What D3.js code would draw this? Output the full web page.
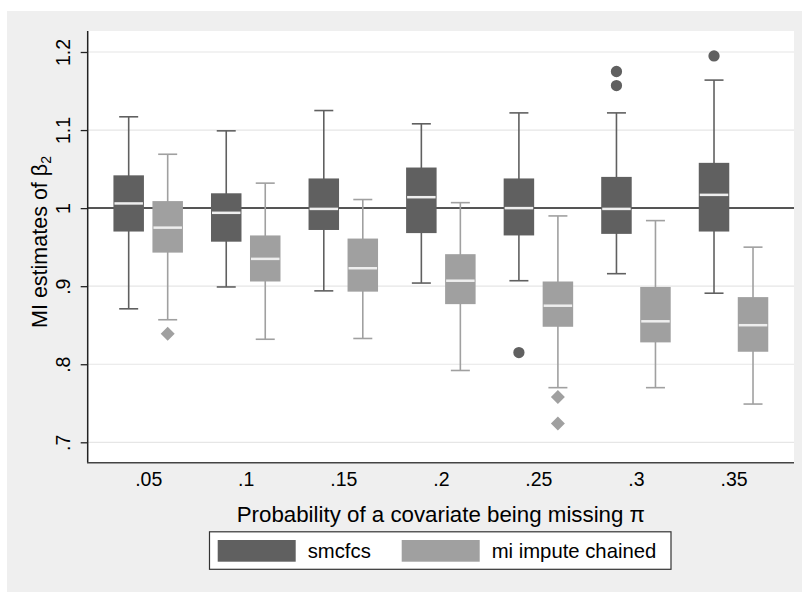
<!DOCTYPE html>
<html>
<head>
<meta charset="utf-8">
<script src="https://cdn.jsdelivr.net/npm/d3@7"></script>
<style>
    body { margin: 0; background: #ffffff; }
    svg { display: block; font-family: 'Liberation Sans', Arial, sans-serif; }
</style>
</head>
<body>
<script>
var categories = ['.05', '.1', '.15', '.2', '.25', '.3', '.35'];
var yTicks = [0.7, 0.8, 0.9, 1.0, 1.1, 1.2];
var yTickLabels = ['.7', '.8', '.9', '1', '1.1', '1.2'];
var seriesNames = ['smcfcs', 'mi impute chained'];

// smcfcs
var smcLow = [0.871, 0.899, 0.894, 0.904, 0.907, 0.916, 0.891];
var smcQ1 = [0.970, 0.957, 0.972, 0.968, 0.965, 0.967, 0.970];
var smcMedian = [1.006, 0.994, 0.999, 1.014, 1.000, 0.999, 1.017];
var smcQ3 = [1.042, 1.019, 1.038, 1.052, 1.038, 1.040, 1.058];
var smcHigh = [1.117, 1.099, 1.125, 1.108, 1.122, 1.122, 1.164];
var smcOutliers = [[], [], [], [], [0.815], [1.157, 1.175], [1.195]];

// mi impute chained
var micLow = [0.857, 0.832, 0.833, 0.792, 0.770, 0.770, 0.749];
var micQ1 = [0.943, 0.906, 0.893, 0.877, 0.848, 0.828, 0.816];
var micMedian = [0.975, 0.935, 0.923, 0.907, 0.875, 0.855, 0.850];
var micQ3 = [1.009, 0.965, 0.961, 0.941, 0.906, 0.899, 0.886];
var micHigh = [1.069, 1.032, 1.011, 1.007, 0.990, 0.984, 0.950];
var micOutliers = [[0.839], [], [], [], [0.758, 0.724], [], []];

var W = 802, H = 592;
var plot = { left: 87.7, right: 794, top: 31, bottom: 462.7 };
var colors = ['#606060', '#a0a0a0'];

var svg = d3.select('body').append('svg').attr('width', W).attr('height', H);

// outer gray panel and white plot region
svg.append('rect').attr('x', 7).attr('y', 11).attr('width', W - 7).attr('height', H - 11).attr('fill', '#efefef');
svg.append('rect').attr('x', plot.left).attr('y', plot.top)
    .attr('width', plot.right - plot.left).attr('height', plot.bottom - plot.top).attr('fill', '#ffffff');

var x = d3.scalePoint().domain(categories).range([plot.left, plot.right]).padding(0.62);
var y = d3.scaleLinear().domain([0.7, 1.2]).range([442.3, 52]);

// grid
svg.append('g').selectAll('line')
    .data(yTicks)
    .enter()
    .append('line')
    .attr('x1', plot.left).attr('x2', plot.right)
    .attr('y1', function(d) { return y(d); })
    .attr('y2', function(d) { return y(d); })
    .attr('stroke', '#e6e6e6').attr('stroke-width', 1.2);

// reference line at 1
svg.append('line')
    .attr('x1', plot.left).attr('x2', plot.right)
    .attr('y1', y(1)).attr('y2', y(1))
    .attr('stroke', '#222').attr('stroke-width', 1.5);

var series = [
    { name: seriesNames[0], low: smcLow, q1: smcQ1, med: smcMedian, q3: smcQ3, high: smcHigh, out: smcOutliers, dx: -19.5 },
    { name: seriesNames[1], low: micLow, q1: micQ1, med: micMedian, q3: micQ3, high: micHigh, out: micOutliers, dx: 19.5 }
];

var boxW = 30.5, capW = 19;

series.forEach(function(s, si) {
    var c = colors[si];
    var g = svg.append('g');
    var rows = categories.map(function(cat, i) {
        return { cat: cat, low: s.low[i], q1: s.q1[i], med: s.med[i], q3: s.q3[i], high: s.high[i], out: s.out[i] };
    });
    var cx = function(d) { return x(d.cat) + s.dx; };

    // whiskers
    g.selectAll('line.wl').data(rows).enter().append('line')
        .attr('x1', cx).attr('x2', cx)
        .attr('y1', function(d) { return y(d.low); })
        .attr('y2', function(d) { return y(d.high); })
        .attr('stroke', c).attr('stroke-width', 1.6);
    g.selectAll('line.capLo').data(rows).enter().append('line')
        .attr('x1', function(d) { return cx(d) - capW / 2; })
        .attr('x2', function(d) { return cx(d) + capW / 2; })
        .attr('y1', function(d) { return y(d.low); })
        .attr('y2', function(d) { return y(d.low); })
        .attr('stroke', c).attr('stroke-width', 1.6);
    g.selectAll('line.capHi').data(rows).enter().append('line')
        .attr('x1', function(d) { return cx(d) - capW / 2; })
        .attr('x2', function(d) { return cx(d) + capW / 2; })
        .attr('y1', function(d) { return y(d.high); })
        .attr('y2', function(d) { return y(d.high); })
        .attr('stroke', c).attr('stroke-width', 1.6);

    // boxes
    g.selectAll('rect').data(rows).enter().append('rect')
        .attr('x', function(d) { return cx(d) - boxW / 2; })
        .attr('y', function(d) { return y(d.q3); })
        .attr('width', boxW)
        .attr('height', function(d) { return y(d.q1) - y(d.q3); })
        .attr('fill', c);

    // medians
    g.selectAll('line.med').data(rows).enter().append('line')
        .attr('x1', function(d) { return cx(d) - boxW / 2 + 1; })
        .attr('x2', function(d) { return cx(d) + boxW / 2 - 1; })
        .attr('y1', function(d) { return y(d.med); })
        .attr('y2', function(d) { return y(d.med); })
        .attr('stroke', '#eeeeee').attr('stroke-width', 2.5);

    // outliers
    var pts = [];
    rows.forEach(function(d) { d.out.forEach(function(v) { pts.push({ cat: d.cat, v: v }); }); });
    var sym = si === 0 ? d3.symbol().type(d3.symbolCircle).size(100) : d3.symbol().type(d3.symbolSquare).size(98);
    g.selectAll('path').data(pts).enter().append('path')
        .attr('d', sym)
        .attr('transform', function(d) {
            return 'translate(' + cx(d) + ',' + y(d.v) + ')' + (si === 1 ? ' rotate(45)' : '');
        })
        .attr('fill', c);
});

// axes
var yAxis = d3.axisLeft(y).tickValues(yTicks)
    .tickFormat(function(d, i) { return yTickLabels[i]; })
    .tickSize(7).tickSizeOuter(0);
var ya = svg.append('g').attr('transform', 'translate(' + plot.left + ',0)').call(yAxis);
ya.select('.domain').remove();
ya.selectAll('line').attr('stroke', '#222').attr('stroke-width', 1.3);
ya.selectAll('text')
    .attr('transform', 'rotate(-90)')
    .attr('x', 0).attr('y', -17.5).attr('dy', 0)
    .style('text-anchor', 'middle')
    .style('font-size', '19.5px').attr('fill', '#000');

var xAxis = d3.axisBottom(x).tickSize(0);
var xa = svg.append('g').attr('transform', 'translate(0,' + plot.bottom + ')').call(xAxis);
xa.select('.domain').remove();
xa.selectAll('text').attr('y', 23).attr('dy', 0)
    .style('font-size', '19.5px').attr('fill', '#000');

svg.append('line').attr('x1', plot.left).attr('x2', plot.left)
    .attr('y1', plot.top).attr('y2', plot.bottom).attr('stroke', '#222').attr('stroke-width', 1.5);
svg.append('line').attr('x1', plot.left - 0.7).attr('x2', plot.right)
    .attr('y1', plot.bottom).attr('y2', plot.bottom).attr('stroke', '#444').attr('stroke-width', 1.5);

// titles
svg.append('text')
    .attr('x', (plot.left + plot.right) / 2).attr('y', 521.5)
    .attr('text-anchor', 'middle').style('font-size', '22.3px')
    .text('Probability of a covariate being missing \u03c0');

var yt = svg.append('text')
    .attr('transform', 'translate(47,' + 242 + ') rotate(-90)')
    .attr('text-anchor', 'middle').style('font-size', '21.5px');
yt.append('tspan').text('MI estimates of \u03b2');
yt.append('tspan').attr('dy', 4).style('font-size', '14px').text('2');

// legend
var leg = svg.append('g');
leg.append('rect').attr('x', 209.5).attr('y', 531.8).attr('width', 461.5).attr('height', 37.5)
    .attr('fill', '#ffffff').attr('stroke', '#333').attr('stroke-width', 1.2);
var legX = [217.7, 401.7];
seriesNames.forEach(function(n, i) {
    leg.append('rect').attr('x', legX[i]).attr('y', 540).attr('width', 78).attr('height', 21.7).attr('fill', colors[i]);
    leg.append('text').attr('x', legX[i] + 90).attr('y', 558.3).style('font-size', '20.3px').text(n);
});
</script>
</body>
</html>
